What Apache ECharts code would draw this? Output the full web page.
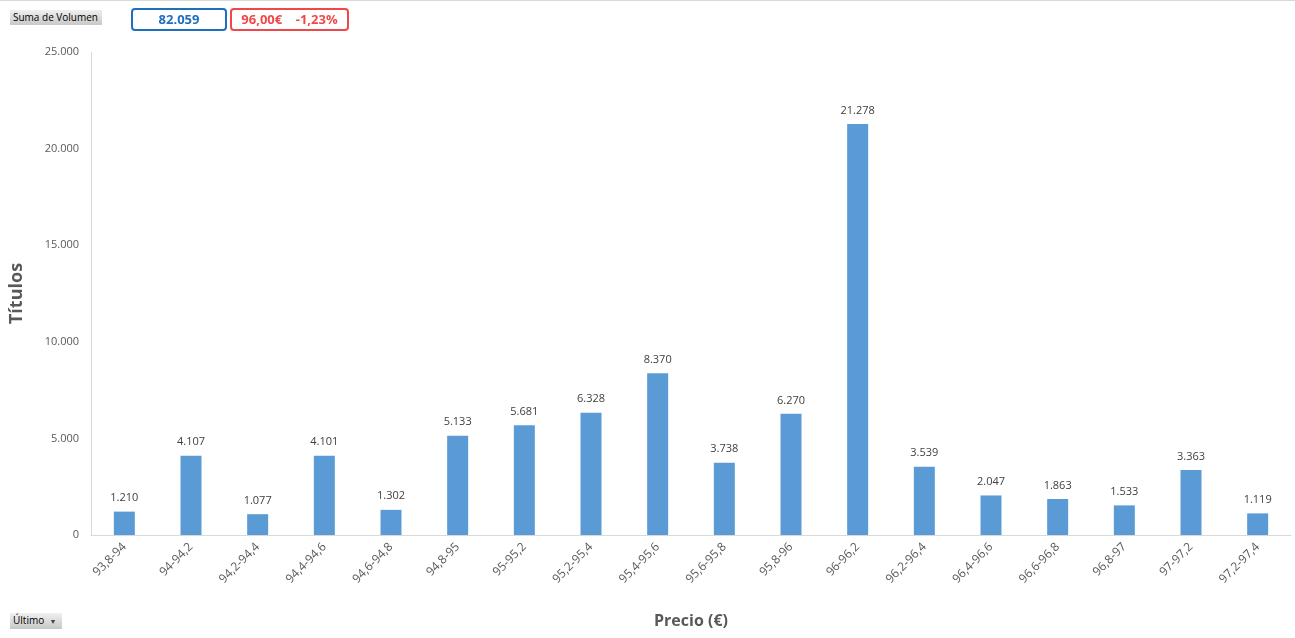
<!DOCTYPE html>
<html>
<head>
<meta charset="utf-8">
<script src="https://cdn.jsdelivr.net/npm/echarts@6/dist/echarts.min.js"></script>
<style>
  html, body { margin: 0; padding: 0; background: #fff; }
  #chart { width: 1295px; height: 638px; }
  .btn {
    position: absolute; font-family: "Open Sans", sans-serif; font-size: 10px; color: #000;
    background: linear-gradient(#f0f0f0, #c8c8c8); padding: 0 3px; line-height: 15px;
    white-space: nowrap; box-sizing: border-box; overflow: hidden;
  }
  .box {
    position: absolute; font-family: "Open Sans", sans-serif; font-weight: bold; font-size: 13px;
    border: 2px solid; border-radius: 4px; text-align: center; line-height: 19px; box-sizing: border-box;
    white-space: nowrap;
  }
</style>
</head>
<body>
<div id="chart"></div>
<div style="position:absolute;left:0;top:0;width:1295px;height:1px;background:#d9d9d9"></div>
<div class="btn" style="left:10px;top:10px;width:92px;">Suma de Volumen</div>
<div class="box" style="left:131px;top:8px;width:96px;height:23px;border-color:#1f6fbf;color:#1f6fbf;">82.059</div>
<div class="box" style="left:230px;top:8px;width:119px;height:23px;border-color:#f04848;color:#f04848;">96,00€&nbsp;&nbsp;&nbsp;&nbsp;-1,23%</div>
<div class="btn" style="left:10px;top:613px;width:52px;">Último&nbsp;&nbsp;<span style="font-size:7px;color:#444">&#9660;</span></div>
<script>
// rangos de precio
const categories = ['93,8-94', '94-94,2', '94,2-94,4', '94,4-94,6', '94,6-94,8', '94,8-95',
  '95-95,2', '95,2-95,4', '95,4-95,6', '95,6-95,8', '95,8-96', '96-96,2', '96,2-96,4',
  '96,4-96,6', '96,6-96,8', '96,8-97', '97-97,2', '97,2-97,4']
// volumen por rango
const volumen = [1210, 4107, 1077, 4101, 1302, 5133, 5681, 6328, 8370, 3738, 6270, 21278,
  3539, 2047, 1863, 1533, 3363, 1119]

const fmt = (v) => String(v).replace(/\B(?=(\d{3})+(?!\d))/g, '.')

const myChart = echarts.init(document.getElementById('chart'))
myChart.setOption({
  animation: false,
  textStyle: { fontFamily: 'Open Sans, sans-serif' },
  grid: { left: 91, right: 4, top: 52, bottom: 103 },
  xAxis: {
    type: 'category',
    data: categories,
    name: 'Precio (€)',
    nameLocation: 'middle',
    nameGap: 78,
    nameTextStyle: { color: '#595959', fontSize: 16, fontWeight: 'bold' },
    axisLine: { lineStyle: { color: '#d9d9d9' } },
    axisTick: { show: false },
    axisLabel: { color: '#595959', fontSize: 12, rotate: 45, margin: 10, interval: 0 },
  },
  yAxis: {
    type: 'value',
    min: 0,
    max: 25000,
    interval: 5000,
    name: 'Títulos',
    nameLocation: 'middle',
    nameGap: 65,
    nameTextStyle: { color: '#595959', fontSize: 18, fontWeight: 'bold' },
    axisLine: { show: true, lineStyle: { color: '#d9d9d9' } },
    axisTick: { show: false },
    splitLine: { show: false },
    axisLabel: { color: '#595959', fontSize: 11, margin: 12, formatter: (v) => fmt(v) },
  },
  series: [
    {
      type: 'bar',
      data: volumen,
      barWidth: 21,
      itemStyle: { color: '#5b9bd5' },
      label: {
        show: true,
        position: 'top',
        distance: 8,
        color: '#404040',
        fontSize: 11,
        formatter: (p) => fmt(p.value),
      },
    },
  ],
})
</script>
</body>
</html>
